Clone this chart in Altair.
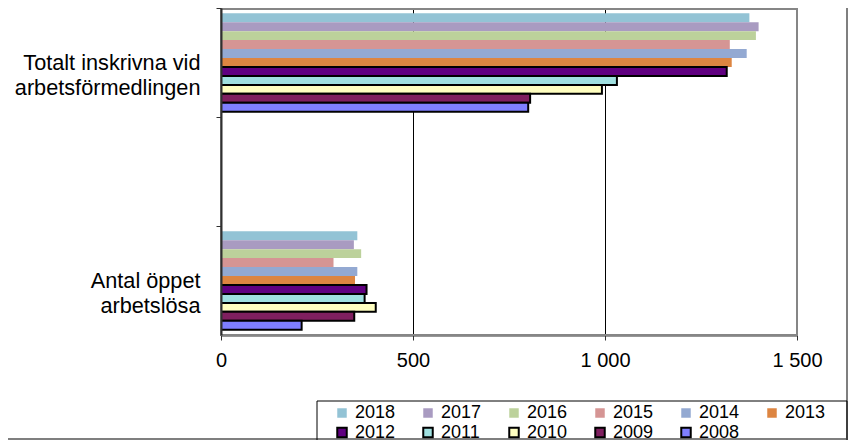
import altair as alt
import pandas as pd

years = ["2018", "2017", "2016", "2015", "2014", "2013", "2012", "2011", "2010", "2009", "2008"]
categories = ["Totalt inskrivna vid|arbetsförmedlingen", "Antal öppet|arbetslösa"]
totalt_inskrivna = [1376, 1400, 1393, 1325, 1369, 1330, 1317, 1031, 992, 805, 800]
oppet_arbetslosa = [355, 346, 365, 293, 355, 349, 379, 374, 403, 347, 210]
x_ticks = [0, 500, 1000, 1500]

colors = ["#93C3D5", "#A99BC1", "#BCD19B", "#D59594", "#93A9D2", "#DD8541",
          "#600080", "#A0E0E0", "#FFFFC0", "#7F1F5F", "#7F7FFF"]
strokes = ["transparent"] * 6 + ["black"] * 5

rows = []
for y, v in zip(years, totalt_inskrivna):
    rows.append({"cat": categories[0], "year": y, "value": v})
for y, v in zip(years, oppet_arbetslosa):
    rows.append({"cat": categories[1], "year": y, "value": v})
df = pd.DataFrame(rows)

ydomain = [categories[0], " ", categories[1]]
FONT = "Liberation Sans"

legend = alt.Legend(
    orient="none", legendX=112, legendY=396, columns=6, direction="horizontal",
    title=None, symbolType="square", symbolSize=90, symbolStrokeWidth=2,
    labelFontSize=18, labelFont=FONT, labelColor="black",
    columnPadding=23, rowPadding=1.5, labelOffset=4, padding=0,
)

bars = alt.Chart(df).mark_bar(strokeWidth=2).encode(
    x=alt.X("value:Q", title=None,
            scale=alt.Scale(domain=[0, 1500], nice=False),
            axis=alt.Axis(values=x_ticks, labelFlush=False,
                          labelExpr="replace(format(datum.value, ','), ',', ' ')",
                          grid=True, gridColor="black", gridWidth=1,
                          domainColor="#303030", domainWidth=2,
                          tickColor="#303030", tickSize=5, tickWidth=1,
                          labelFontSize=20, labelFont=FONT, labelColor="black",
                          labelPadding=10)),
    y=alt.Y("cat:N", title=None,
            scale=alt.Scale(domain=ydomain, paddingInner=0, paddingOuter=0),
            axis=alt.Axis(labelExpr="split(datum.label, '|')",
                          labelLineHeight=25, labelAlign="right", labelBaseline="middle",
                          labelFontSize=21.7, labelFont=FONT, labelColor="black",
                          labelPadding=16, labelLimit=400,
                          tickOffset=-54.5, labelOffset=54.5, zindex=1,
                          domainColor="#303030", domainWidth=2,
                          tickColor="#303030", tickSize=5, tickWidth=1, grid=False)),
    yOffset=alt.YOffset("year:N", scale=alt.Scale(domain=years, paddingInner=0, paddingOuter=0.58)),
    fill=alt.Fill("year:N", scale=alt.Scale(domain=years, range=colors), legend=legend),
    stroke=alt.Stroke("year:N", scale=alt.Scale(domain=years, range=strokes), legend=legend),
)

deco = pd.DataFrame({"a": [0]})
legend_box = alt.Chart(deco).mark_rect(filled=False, stroke="black", strokeWidth=1).encode(
    x=alt.value(96), x2=alt.value(626), y=alt.value(393), y2=alt.value(460))
chart_border = alt.Chart(deco).mark_rect(filled=False, stroke="#7f7f7f", strokeWidth=2).encode(
    x=alt.value(-240), x2=alt.value(626), y=alt.value(-30), y2=alt.value(431))
plot_frame = alt.Chart(deco).mark_rect(filled=False, stroke="#868686", strokeWidth=2).encode(
    x=alt.value(0), x2=alt.value(576), y=alt.value(1), y2=alt.value(327))

chart = alt.layer(chart_border, legend_box, bars, plot_frame).properties(
    width=576, height=327,
    padding={"left": 213, "top": 0, "right": 51, "bottom": 105},
    autosize="none",
    background="white",
).configure_view(stroke=None)

chart.save("out.html", embed_options={"renderer": "svg", "actions": False})
